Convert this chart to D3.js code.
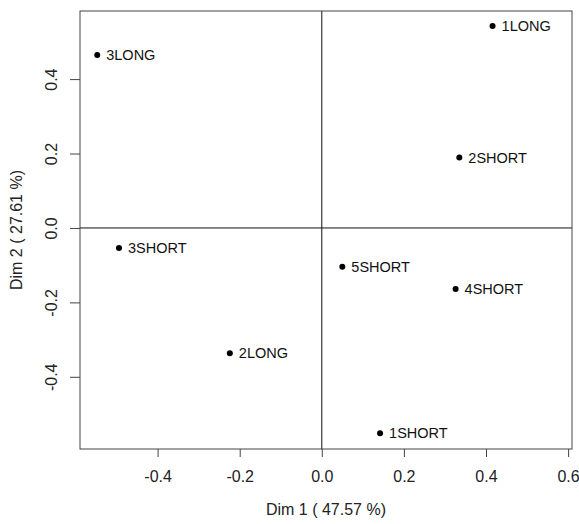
<!DOCTYPE html>
<html>
<head>
<meta charset="utf-8">
<script src="https://cdn.jsdelivr.net/npm/d3@7"></script>
<style>
  body { margin: 0; background: #fff; }
  text { font-family: "Liberation Sans", Arial, sans-serif; }
</style>
</head>
<body>
<div id="chart"></div>
<script>
// data
var labels = ["1LONG", "2SHORT", "3LONG", "3SHORT", "5SHORT", "4SHORT", "2LONG", "1SHORT"];
var dim1 = [0.416, 0.335, -0.547, -0.494, 0.050, 0.326, -0.224, 0.142];
var dim2 = [0.543, 0.189, 0.465, -0.054, -0.104, -0.164, -0.337, -0.552];
var xTicks = [-0.4, -0.2, 0.0, 0.2, 0.4, 0.6];
var yTicks = [-0.4, -0.2, 0.0, 0.2, 0.4];
var xTitle = "Dim 1  ( 47.57 %)";
var yTitle = "Dim 2  ( 27.61 %)";

var margin = {top: 11, right: 7, bottom: 75, left: 80},
    width = 579 - margin.left - margin.right,
    height = 524 - margin.top - margin.bottom;

var x = d3.scaleLinear().domain([-0.589, 0.6095]).range([0, width]);
var y = d3.scaleLinear().domain([-0.594, 0.583]).range([height, 0]);

var fmt = function(d) { return Math.abs(d) < 1e-9 ? "0.0" : d.toFixed(1); };

var svg = d3.select("#chart")
  .append("svg")
    .attr("width", 579)
    .attr("height", 524)
  .append("g")
    .attr("transform", "translate(" + margin.left + "," + margin.top + ")");

// bottom axis
var gx = svg.append("g")
    .attr("transform", "translate(0," + height + ")")
    .call(d3.axisBottom(x).tickValues(xTicks).tickFormat(fmt).tickSize(8).tickPadding(14));
gx.select(".domain").remove();
gx.selectAll("line").attr("stroke", "#444");
gx.selectAll("text").attr("fill", "#222").style("font-size", "16px")
    .style("font-family", "'Liberation Sans', Arial, sans-serif");

// left axis, labels rotated like R
var gy = svg.append("g")
    .call(d3.axisLeft(y).tickValues(yTicks).tickFormat("").tickSize(10));
gy.select(".domain").remove();
gy.selectAll("line").attr("stroke", "#444");
gy.selectAll(".tick").append("text")
    .attr("transform", "translate(-29,0) rotate(-90)")
    .attr("text-anchor", "middle")
    .attr("dy", "0.35em")
    .attr("fill", "#222")
    .style("font-size", "16px")
    .text(fmt);

// zero lines
svg.append("line")
    .attr("x1", x(0)).attr("x2", x(0))
    .attr("y1", 0).attr("y2", height)
    .attr("stroke", "#111");
svg.append("line")
    .attr("x1", 0).attr("x2", width)
    .attr("y1", y(0)).attr("y2", y(0))
    .attr("stroke", "#111");

// frame
svg.append("rect")
    .attr("width", width)
    .attr("height", height)
    .attr("fill", "none")
    .attr("stroke", "#444");

// points
var pts = svg.append("g").selectAll("g")
    .data(labels)
    .enter().append("g")
      .attr("transform", function(d, i) { return "translate(" + x(dim1[i]) + "," + y(dim2[i]) + ")"; });

pts.append("circle")
    .attr("r", 3)
    .attr("fill", "#000");

pts.append("text")
    .attr("x", 9)
    .attr("dy", "0.35em")
    .attr("fill", "#111")
    .style("font-size", "14.5px")
    .text(function(d) { return d; });

// axis titles
svg.append("text")
    .attr("x", width / 2)
    .attr("y", height + 66)
    .attr("text-anchor", "middle")
    .attr("fill", "#222")
    .style("font-size", "16px")
    .text(xTitle);

svg.append("text")
    .attr("transform", "rotate(-90)")
    .attr("x", -height / 2)
    .attr("y", 16 - margin.left)
    .attr("dy", "0.35em")
    .attr("text-anchor", "middle")
    .attr("fill", "#222")
    .style("font-size", "16px")
    .text(yTitle);
</script>
</body>
</html>
